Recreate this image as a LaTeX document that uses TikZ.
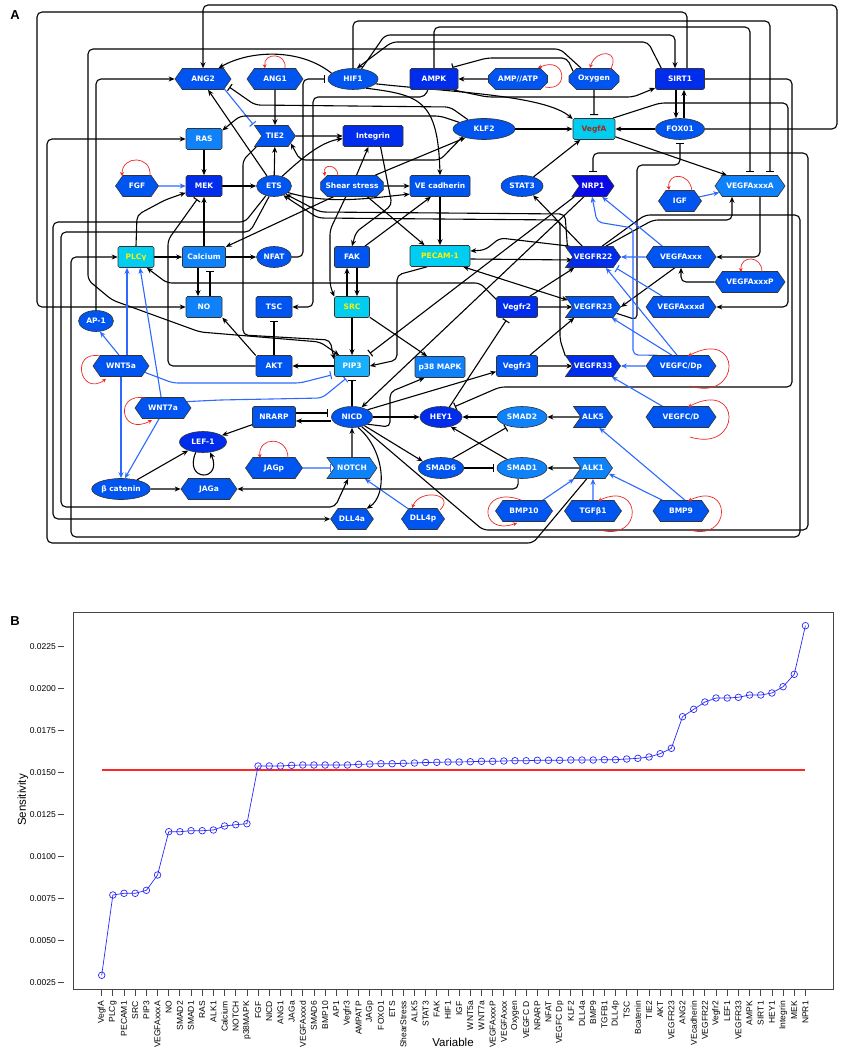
\documentclass[tikz,border=0pt]{standalone}
\usepackage{fontspec}
\newfontfamily\nodefont{DejaVu Sans}
\newfontfamily\plotfont{Liberation Sans}
\usetikzlibrary{shapes.geometric,shapes.symbols,shapes.misc,arrows.meta,backgrounds}

\definecolor{nmid}{RGB}{0,85,240}
\definecolor{ndark}{RGB}{0,45,235}
\definecolor{ndeep}{RGB}{10,10,230}
\definecolor{nlight}{RGB}{15,130,250}
\definecolor{ncyan}{RGB}{0,205,240}
\definecolor{npip}{RGB}{25,175,250}
\definecolor{lblue}{RGB}{45,105,255}
\definecolor{lred}{RGB}{235,40,40}
\definecolor{vtext}{RGB}{170,40,20}
\definecolor{pblue}{RGB}{40,40,250}
\definecolor{axcol}{RGB}{70,70,70}
\definecolor{meanred}{RGB}{250,40,40}

\tikzset{
  nd/.style={draw=black!80, line width=0.6pt, text=white, fill=nmid,
    font=\nodefont\bfseries\fontsize{7.5}{8}\selectfont, minimum height=21pt, inner sep=1pt},
  rbox/.style={nd, rectangle, rounded corners=1.5pt},
  ebox/.style={nd, ellipse},
  hbox/.style={nd, signal, signal to=west and east, signal pointer angle=110},
  obox/.style={nd, chamfered rectangle, chamfered rectangle xsep=5pt},
  sbox/.style={nd, signal, signal to=east, signal from=west, signal pointer angle=110},
  act/.style={-{Stealth[length=6pt,width=5pt]}, line width=1.1pt},
  inh/.style={-{Bar[width=8pt]}, shorten >=3pt, line width=1.1pt},
  bact/.style={act, draw=lblue},
  binh/.style={inh, draw=lblue},
  rc/.style={rounded corners=5pt},
  loopr/.style={draw=lred, line width=0.7pt, -{Stealth[length=4pt,width=4pt]}},
  ylab/.style={anchor=east, inner sep=0pt, font=\plotfont\fontsize{8.5}{9}\selectfont},
  xlab/.style={anchor=east, rotate=90, inner sep=0pt, font=\plotfont\fontsize{8.5}{9}\selectfont},
}

\begin{document}
\begin{tikzpicture}[x=1pt,y=-1pt]
\useasboundingbox (0,0) rectangle (842,1056);

% panel labels
\node[font=\plotfont\bfseries\fontsize{13}{13}\selectfont] (labA) at (15,15) {A};
\node[font=\plotfont\bfseries\fontsize{13}{13}\selectfont] (labB) at (15,621) {B};

% ---- network nodes
\node[hbox, minimum width=56pt] (ang2) at (203,79) {ANG2};
\node[hbox, minimum width=56pt] (ang1) at (275,79) {ANG1};
\node[ebox, minimum width=50pt] (hif) at (353,79) {HIF1};
\node[rbox, minimum width=48pt, fill=ndark] (ampk) at (434,79) {AMPK};
\node[obox, minimum width=59pt] (ampatp) at (518,79) {AMP//ATP};
\node[obox, minimum width=50pt] (oxy) at (594,79) {Oxygen};
\node[rbox, minimum width=49pt, fill=ndark] (sirt) at (680,79) {SIRT1};
\node[rbox, minimum width=36pt, fill=nlight] (ras) at (204,139) {RAS};
\node[sbox, minimum width=41pt] (tie) at (275,136) {TIE2};
\node[rbox, minimum width=60pt, fill=ndark] (integ) at (373,136) {Integrin};
\node[ebox, minimum width=62pt] (klf) at (484,129) {KLF2};
\node[rbox, minimum width=42pt, fill=ncyan, text=vtext] (vegfa) at (594,129) {VegfA};
\node[ebox, minimum width=49pt] (fox) at (680,129) {FOX01};
\node[hbox, minimum width=43pt] (fgf) at (137,186) {FGF};
\node[rbox, minimum width=36pt, fill=ndark] (mek) at (204,186) {MEK};
\node[ebox, minimum width=35pt] (ets) at (274,186) {ETS};
\node[obox, minimum width=61pt] (shear) at (352,186) {Shear stress};
\node[rbox, minimum width=60pt] (vecad) at (440,186) {VE cadherin};
\node[ebox, minimum width=42pt] (stat) at (522,186) {STAT3};
\node[sbox, minimum width=42pt, fill=ndeep] (nrp) at (593,186) {NRP1};
\node[hbox, minimum width=43pt] (igf) at (680,201) {IGF};
\node[hbox, minimum width=70pt, fill=nlight] (vxa) at (750,186) {VEGFAxxxA};
\node[rbox, minimum width=36pt, fill=ncyan, text=yellow] (plc) at (136,257) {PLCγ};
\node[rbox, minimum width=43pt, fill=nlight] (calc) at (204,257) {Calcium};
\node[ebox, minimum width=35pt] (nfat) at (274,257) {NFAT};
\node[rbox, minimum width=35pt] (fak) at (352,257) {FAK};
\node[rbox, minimum width=60pt, fill=ncyan, text=yellow] (pecam) at (440,256) {PECAM-1};
\node[sbox, minimum width=48pt, fill=ndark] (vr22) at (593,257) {VEGFR22};
\node[hbox, minimum width=70pt] (vxx) at (681,257) {VEGFAxxx};
\node[hbox, minimum width=70pt] (vxp) at (750,282) {VEGFAxxxP};
\node[rbox, minimum width=36pt, fill=nlight] (no) at (204,307) {NO};
\node[rbox, minimum width=36pt] (tsc) at (274,307) {TSC};
\node[rbox, minimum width=35pt, fill=ncyan, text=yellow] (src) at (352,307) {SRC};
\node[rbox, minimum width=41pt, fill=ndark] (vr2) at (517,307) {Vegfr2};
\node[sbox, minimum width=48pt] (vr23) at (593,307) {VEGFR23};
\node[hbox, minimum width=70pt] (vxd) at (681,307) {VEGFAxxxd};
\node[ebox, minimum width=35pt] (ap1) at (96,321) {AP-1};
\node[hbox, minimum width=56pt] (wnt5) at (121,366) {WNT5a};
\node[rbox, minimum width=36pt] (akt) at (274,366) {AKT};
\node[rbox, minimum width=35pt, fill=npip] (pip) at (352,366) {PIP3};
\node[rbox, minimum width=50pt, fill=nlight] (p38) at (440,367) {p38 MAPK};
\node[rbox, minimum width=41pt] (vr3) at (517,366) {Vegfr3};
\node[sbox, minimum width=48pt, fill=ndark] (vr33) at (593,366) {VEGFR33};
\node[hbox, minimum width=70pt] (vcdp) at (681,366) {VEGFC/Dp};
\node[hbox, minimum width=56pt] (wnt7) at (163,408) {WNT7a};
\node[rbox, minimum width=43pt] (nrarp) at (274,417) {NRARP};
\node[ebox, minimum width=41pt] (nicd) at (352,417) {NICD};
\node[ebox, minimum width=42pt, fill=ndark] (hey) at (441,417) {HEY1};
\node[ebox, minimum width=50pt, fill=nlight] (smad2) at (522,417) {SMAD2};
\node[sbox, minimum width=39pt] (alk5) at (593,417) {ALK5};
\node[hbox, minimum width=70pt] (vcd) at (681,417) {VEGFC/D};
\node[ebox, minimum width=47pt, fill=ndark] (lef) at (203,442) {LEF-1};
\node[hbox, minimum width=57pt] (jagp) at (274,468) {JAGp};
\node[sbox, minimum width=50pt, fill=nlight] (notch) at (352,468) {NOTCH};
\node[ebox, minimum width=42pt] (smad6) at (441,468) {SMAD6};
\node[ebox, minimum width=50pt, fill=nlight] (smad1) at (522,468) {SMAD1};
\node[sbox, minimum width=39pt, fill=nlight] (alk1) at (593,468) {ALK1};
\node[ebox, minimum width=46pt] (bcat) at (121,489) {β catenin};
\node[hbox, minimum width=56pt] (jaga) at (209,489) {JAGa};
\node[hbox, minimum width=57pt] (bmp10) at (524,511) {BMP10};
\node[hbox, minimum width=57pt] (tgf) at (593,511) {TGFβ1};
\node[hbox, minimum width=56pt] (bmp9) at (681,511) {BMP9};
\node[hbox, minimum width=41pt] (dll4a) at (352,519) {DLL4a};
\node[hbox, minimum width=41pt] (dll4p) at (423,519) {DLL4p};

\begin{scope}[on background layer]
% long routes over the top
\draw[act, rc] (fox.east) -| (837,5) -| (ang2.north);
\draw[act, rc] ([xshift=7pt]sirt.north) |- (37,12) |- (no.west);
\draw[inh, rc] (ampk.north) |- (750,27) -- (vxa.north);
\draw[inh, rc] (hif.north) |- (770,21) -- ([xshift=20pt]vxa.north);
\draw[act, rc] (hif.50) -- (385,35) -| ([xshift=-5pt]sirt.north);
\draw[act, rc] (sirt.150) -- (648,42) -- (392,42) -- (hif.70);
\draw[act, rc] (oxy.140) -- (560,49) -- (88,49) -- (88,280) -- (112,300) -- (200,332) -- (320,342) -- (pip.140);
\draw[inh, rc] (oxy.160) -- (567,58) -- (487,58) -- (ampk.35);
\draw[act] (ampatp) -- (ampk);
\draw[act, rc] (ampk.-30) -- (487,97) -- (633,97) -- (sirt.-160);
\draw[inh] (oxy) -- (vegfa);
\draw[act] (klf) -- (vegfa);
\draw[act] (fox) -- (vegfa);
\draw[act] ([xshift=-4pt]sirt.south) -- ([xshift=-4pt]fox.north);
\draw[act] ([xshift=4pt]fox.north) -- ([xshift=4pt]sirt.south);
\draw[act] (vegfa.-20) -- (vxa.155);
\draw[act, rc] (vegfa.30) -- (660,103) -- (788,103) |- (vxd.east);
\draw[act] (hif.165) .. controls (300,48) and (250,50) .. (ang2.35);
\draw[inh, rc] (nfat.east) -| (303,79) -- (hif.west);
\draw[act] (ang1) -- (tie);
\draw[binh] (ang2.-25) -- (tie.155);
\draw[act] (ets.125) -- (ang2.-65);
\draw[act] (ets) -- (tie);
\draw[act] (ets.50) .. controls (300,160) and (320,142) .. (integ.185);
\draw[act] (tie) -- (integ);
\draw[act, rc] (klf.165) -- (440,116) -- (240,116) -- (ras.25);
\draw[inh, rc] (klf.150) -- (450,107) -- (255,105) -- (ang2.-15);
\draw[act, rc] (klf.-160) -- (440,160) -- (300,160) -- (tie.-25);
\draw[act, rc] (tie.-150) -- (243,160) -- (243,335) -- (330,340) -- (pip.160);
\draw[act, rc] (ampk.-120) -- (425,97) -- (313,97) |- (tsc.east);
\draw[act, rc] (ap1.north) |- (ang2.west);
% middle
\draw[bact] (fgf) -- (mek);
\draw[act] (ras) -- (mek);
\draw[act] (mek) -- (ets);
\draw[act] (calc) -- (mek);
\draw[act, rc] (plc.north) -- (137,215) -- (165,200) -- (mek.200);
\draw[act] (plc) -- (calc);
\draw[act] (calc) -- (nfat);
\draw[act] ([xshift=-6pt]calc.south) -- ([xshift=-6pt]no.north);
\draw[inh] ([xshift=6pt]no.north) -- ([xshift=6pt]calc.south);
\draw[act] (akt.150) -- (no.-30);
\draw[inh] (akt) -- (tsc);
\draw[act] (pip) -- (akt);
\draw[act] (src) -- (pip);
\draw[act] ([xshift=-5pt]src.north) -- ([xshift=-5pt]fak.south);
\draw[act] ([xshift=5pt]fak.south) -- ([xshift=5pt]src.north);
\draw[act] (src.-30) -- (p38.140);
\draw[act] (shear) -- (integ);
\draw[act] (shear) -- (vecad);
\draw[act] (shear.25) -- (klf.-155);
\draw[act, rc] (shear.-120) -- (330,230) -- (330,285) -- (src.150);
\draw[act] (shear.-35) -- (pecam.145);
\draw[act] (shear.-150) -- (calc.25);
\draw[act] (vecad) -- (pecam);
\draw[act] (fak.40) -- (vecad.-130);
\draw[act, rc] (integ.-55) -- (392,205) -- (356,232) -- (fak.north);
\draw[act] (hif.-35) .. controls (420,95) and (438,100) .. (vecad.north);
\draw[act] (hif.-12) .. controls (450,92) and (545,95) .. (vegfa.155);
\draw[act] (stat) -- (vegfa);
\draw[act] (vr22.135) -- (stat.-40);
\draw[act] (ets.-25) .. controls (330,205) and (370,198) .. (vecad.-165);
\draw[act, rc] (vr22.165) -- (565,214) -- (320,212) -- (ets.-35);
\draw[act, rc] (vr33.160) -- (560,340) -- (560,220) -- (318,218) -- (ets.-45);
\draw[inh, rc] (akt.west) -- (168,366) -- (168,240) -- (mek.-115);
\draw[act, rc] (vr2.160) -- (480,283) -- (167,283) -- (plc.-45);
\draw[act, rc] (pecam.-140) -- (397,275) -- (397,360) -- (pip.east);
\draw[inh] (nrp.-150) -- (pip.35);
\draw[act] (nrp.-130) -- (nicd.45);
% receptors
\draw[act] (vr2) -- (vr23);
\draw[act] (vr2.40) -- (vr22.-150);
\draw[act] (vr3) -- (vr33);
\draw[act] (vr3.40) -- (vr23.-150);
\draw[act] ([yshift=-3pt]pecam.east) -- ([yshift=-3pt]vr22.west);
\draw[act, rc] (vr22.155) -- (500,238) -- (485,250) -- ([yshift=5pt]pecam.east);
\draw[{Stealth[length=6pt,width=5pt]}-{Stealth[length=6pt,width=5pt]}, line width=1.1pt] (pecam.-25) -- (vr23.165);
\draw[act] (vxx.-120) -- (vr23.east);
\draw[act, rc] (vxp.west) -| (vxx.south);
\draw[act, rc] (vr22.40) -- (653,220) -- (732,220) -- ([xshift=-18pt]vxa.south);
\draw[act, rc] ([xshift=10pt]vxa.south) |- (vxx.east);
\draw[act, rc] (vr22.50) -- (645,215) -- (800,215) -- (800,537) -- (71,537) |- (plc.west);
\draw[inh, rc] (vr23.-15) -- (637,320) -- (637,165) -- (680,165) -- (fox.south);
\draw[inh, rc] (sirt.east) -- (792,79) -- (792,387) -- (500,387) -- (hey.40);
\draw[inh] (hey.50) -- (vr2.-130);
% notch part
\draw[act] (nicd.25) -- (vr3.-165);
\draw[act] (nicd) -- (hey);
\draw[act, rc] (nicd.-25) -- (390,427) -- (390,392) -- (p38.-145);
\draw[act] (nicd.-60) .. controls (385,450) and (388,495) .. (dll4a.35);
\draw[act] (nicd.-35) -- (smad6.160);
\draw[inh] (nicd) -- (pip);
\draw[act] ([yshift=-4pt]nicd.west) -- ([yshift=-4pt]nrarp.east);
\draw[inh] ([yshift=4pt]nrarp.east) -- ([yshift=4pt]nicd.west);
\draw[act] (notch) -- (nicd);
\draw[binh] (jagp) -- (notch);
\draw[bact] (dll4p) -- (notch.-40);
\draw[act] (nrarp) -- (lef);
\draw[act] (bcat) -- (lef);
\draw[act] (bcat) -- (jaga);
\draw[act] (lef.-125) .. controls (183,482) and (223,482) .. (lef.-55);
\draw[act, rc] (smad1.-110) |- (jaga.east);
\draw[inh, rc] (nicd.-45) -- (483,530) -- (808,530) -- (808,153) -- (593,153) -- (nrp.north);
% wnt
\draw[bact] (wnt5.100) -- (ap1.-70);
\draw[bact] ([xshift=6pt]wnt5.north) -- ([xshift=-9pt]plc.south);
\draw[bact] (wnt7.100) -- ([xshift=4pt]plc.south);
\draw[bact] (wnt5.south) -- (bcat.north);
\draw[bact] (wnt7.-110) -- (bcat.70);
\draw[binh, rc] (wnt5.-15) -- (173,383) -- (300,383) -- (pip.-155);
\draw[binh, rc] (wnt7.15) -- (220,400) -- (322,398) -- (pip.-110);
% smad
\draw[act] (alk5) -- (smad2);
\draw[act] (smad2) -- (hey);
\draw[act] (alk1) -- (smad1);
\draw[act] (smad1.150) -- (hey.-45);
\draw[inh] (smad6) -- (smad1);
\draw[inh] (smad6.40) -- (smad2.-145);
\draw[bact] (bmp10.30) -- (alk1.-150);
\draw[bact] (tgf) -- (alk1);
\draw[bact] (bmp9.150) -- (alk1.-20);
\draw[bact] (bmp9.70) -- (alk5.-60);
\draw[act, rc] (alk1.-120) -- (533,543) -- (47,543) |- (ras.west);
\draw[act, rc] (ets.-130) -- (245,222) -- (53,222) |- (dll4a.west);
\draw[act, rc] (ets.-115) -- (250,232) -- (61,232) -- (61,507) -- (335,507) -- (notch.-110);
% vegf ligands
\draw[bact] (vcd.150) -- (vr33.-30);
\draw[bact] (vcdp) -- (vr33);
\draw[bact] (vcdp.130) -- (vr23.-30);
\draw[bact] (vcdp.110) -- (vr22.-40);
\draw[bact, rc] (vcdp.155) -- (633,355) -- (633,228) -- (597,222) -- (nrp.-95);
\draw[bact] (vxx) -- (vr22);
\draw[bact] (vxx.150) -- (nrp.-50);
\draw[binh] (vxd.150) -- (vr22.-25);
\draw[bact] (igf) -- (vxa);
\end{scope}

% self loops
\draw[loopr] ([xshift=10pt]ang1.north) .. controls +(2,-16) and +(-2,-16) .. ([xshift=-10pt]ang1.north);
\draw[loopr] (610,70) .. controls (622,50) and (596,48) .. (590,68);
\draw[loopr] (545,87) .. controls (570,92) and (566,55) .. (538,68);
\draw[loopr] (338,176) .. controls (338,164) and (322,163) .. (325,176);
\draw[loopr] (150,176) .. controls (152,155) and (122,155) .. (122,176);
\draw[loopr] (692,191) .. controls (690,172) and (667,172) .. (669,190);
\draw[loopr] (762,272) .. controls (762,255) and (740,255) .. (741,272);
\draw[loopr] (288,458) .. controls (288,436) and (258,436) .. (260,458);
\draw[loopr] (440,510) .. controls (456,494) and (420,488) .. (412,508);
\draw[loopr] (100,356) .. controls (70,350) and (80,397) .. (106,379);
\draw[loopr] (145,398) .. controls (114,392) and (120,437) .. (152,420);
\draw[loopr] (690,386) .. controls (742,402) and (742,328) .. (688,356);
\draw[loopr] (690,437) .. controls (742,453) and (742,379) .. (688,407);
\draw[loopr] (690,530) .. controls (732,542) and (732,480) .. (688,501);
\draw[loopr] (600,530) .. controls (644,542) and (642,480) .. (598,501);
\draw[loopr] (521,500) .. controls (478,484) and (478,537) .. (517,523);

% ---- panel B
\fill[meanred] (101.7,769.0) rectangle (805.4,770.5);
\draw[axcol, line width=0.9pt] (73,612) rectangle (833,989);
\foreach \v/\ytext in {982.3/0.0025, 940.3/0.0050, 898.3/0.0075, 856.3/0.0100, 814.3/0.0125,
                   772.3/0.0150, 730.3/0.0175, 688.3/0.0200, 646.3/0.0225} {
  \draw[axcol, line width=0.8pt] (58,\v) -- (64,\v);
  \node[ylab] at (56,\v) {\ytext};
}
\foreach \i in {0,...,63}
  \draw[axcol, line width=0.8pt] ({101.7+11.17*\i},989) -- ({101.7+11.17*\i},996);
\foreach \xtext [count=\i from 0] in {VegfA, PLCg, PECAM1, SRC, PIP3, VEGFAxxxA, NO, SMAD2, SMAD1, RAS,
    ALK1, Calcium, NOTCH, p38MAPK, FGF, NICD, ANG1, JAGa, VEGFAxxxd, SMAD6, BMP10, AP1, Vegfr3,
    AMPATP, JAGp, FOXO1, ETS, ShearStress, ALK5, STAT3, FAK, HIF1, IGF, WNT5a, WNT7a, VEGFAxxxP,
    VEGFAxxx, Oxygen, VEGFC D, NRARP, NFAT, VEGFC Dp, KLF2, DLL4a, BMP9, TGFB1, DLL4p, TSC,
    Bcatenin, TIE2, AKT, VEGFR23, ANG2, VEcadherin, VEGFR22, Vegfr2, LEF1, VEGFR33, AMPK, SIRT1,
    HEY1, Integrin, MEK, NPR1}
  \node[xlab] at ({101.7+11.17*\i},1001) {\xtext};
\node[font=\plotfont\fontsize{11.5}{12}\selectfont, rotate=90] (ylabel) at (23,800) {Sensitivity};
\node[font=\plotfont\fontsize{11.5}{12}\selectfont] (xlabel) at (453,1042) {Variable};

\draw[pblue, line width=0.7pt] (101.7,975.3)
  \foreach \v [count=\i from 1] in {895,893.3,893.3,890.3,875,831.7,831.7,830.7,830.7,830,826,824.7,823.7,
    766,766,766,765.3,765,765,765,765,765,764.3,764,763.7,763.7,763.3,763,762.5,762.3,762,762,761.7,
    761.3,761.3,761,760.7,760.7,760.3,760.3,760.3,760,760,760,759.7,759.7,759,758.3,757,753.7,748.3,
    716.7,709.3,702,698,698,697.3,695,695,693,686.7,674.3,625.7} { -- ({101.7+11.17*\i},\v) };
\foreach \v [count=\i from 0] in {975.3,895,893.3,893.3,890.3,875,831.7,831.7,830.7,830.7,830,826,824.7,823.7,
    766,766,766,765.3,765,765,765,765,765,764.3,764,763.7,763.7,763.3,763,762.5,762.3,762,762,761.7,
    761.3,761.3,761,760.7,760.7,760.3,760.3,760.3,760,760,760,759.7,759.7,759,758.3,757,753.7,748.3,
    716.7,709.3,702,698,698,697.3,695,695,693,686.7,674.3,625.7}
  \draw[pblue, line width=0.7pt] ({101.7+11.17*\i},\v) circle[radius=3.3pt];
\end{tikzpicture}
\end{document}
